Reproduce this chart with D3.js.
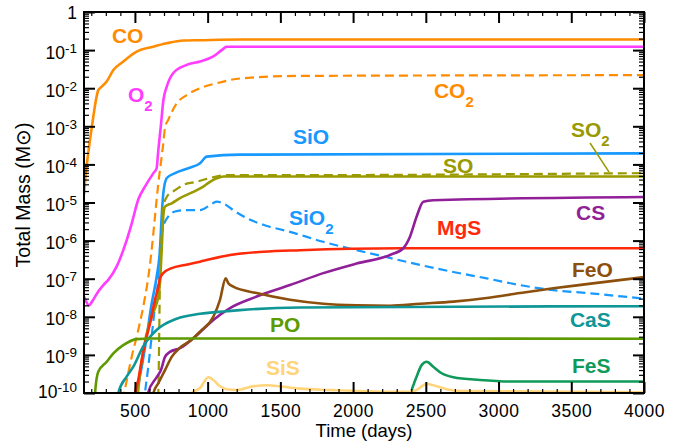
<!DOCTYPE html>
<html>
<head>
<meta charset="utf-8">
<script src="https://cdn.jsdelivr.net/npm/d3@7"></script>
<style>
  body { margin: 0; background: #fff; }
  svg { display: block; font-family: "Liberation Sans", Arial, Helvetica, sans-serif; }
</style>
</head>
<body>
<svg id="chart" width="683" height="445"></svg>
<script>
// Total mass of each molecule (solar masses) against time since explosion (days)
const CO = [[150,1.6e-5],[160,5.0e-5],[173,1.3e-4],[191,4.4e-4],[214,1.8e-3],[235,5.6e-3],[248,8.9e-3],[260,1.0e-2],[306,1.5e-2],[352,3.0e-2],[420,5.0e-2],[512,9.1e-2],[626,1.23e-1],[719,1.51e-1],[833,1.78e-1],[948,1.82e-1],[1222,1.9e-1],[4000,1.9e-1]];
const O2 = [[150,3.4e-8],[185,2.0e-8],[205,2.5e-8],[248,4.6e-8],[283,6.8e-8],[317,9.3e-8],[375,2.1e-7],[432,7.6e-7],[478,2.8e-6],[523,1.2e-5],[569,2.6e-5],[627,5.9e-5],[649,7.9e-5],[661,2.4e-4],[678,1.0e-3],[696,4.9e-3],[719,1.1e-2],[764,2.5e-2],[856,4.1e-2],[948,5.0e-2],[1039,6.8e-2],[1097,1.0e-1],[1131,1.23e-1],[4000,1.23e-1]];
const CO2 = [[415,6.3e-11],[432,1.3e-10],[478,8.9e-10],[523,4.5e-9],[558,1.9e-8],[592,1.1e-7],[615,5.6e-7],[638,4.3e-6],[661,3.2e-5],[684,1.6e-4],[695,3.5e-4],[707,9.1e-4],[730,1.5e-3],[787,4.0e-3],[856,6.6e-3],[948,1.0e-2],[1062,1.35e-2],[1222,1.8e-2],[1614,2.1e-2],[4000,2.2e-2]];
const SiO = [[500,5e-11],[512,1.0e-10],[547,4.9e-10],[581,3.0e-9],[615,2.2e-8],[649,1.1e-7],[672,5.6e-7],[684,4.3e-6],[695,1.7e-5],[719,4.4e-5],[776,5.9e-5],[867,7.9e-5],[948,1.07e-4],[994,1.6e-4],[1222,1.8e-4],[4000,1.95e-4]];
const SiO2 = [[560,5e-11],[569,1e-10],[592,4.9e-10],[615,3.0e-9],[638,1.9e-8],[661,1.1e-7],[672,5.6e-7],[695,2.3e-6],[730,4.3e-6],[776,5.8e-6],[844,6.3e-6],[948,6.3e-6],[1016,8.5e-6],[1062,1.05e-5],[1108,9.5e-6],[1176,6.3e-6],[1268,3.9e-6],[1383,2.6e-6],[1566,1.7e-6],[1795,9.3e-7],[2024,5.6e-7],[2254,3.5e-7],[2460,2.3e-7],[2689,1.5e-7],[2919,1.02e-7],[3148,6.8e-8],[3377,5.0e-8],[3606,4.2e-8],[4000,3.0e-8]];
const SO = [[515,5e-11],[521,1e-10],[558,1.35e-9],[615,1e-8],[649,2.2e-8],[661,3.4e-8],[672,7.6e-8],[684,5.6e-7],[695,4.3e-6],[707,7.8e-6],[753,9.5e-6],[810,1.3e-5],[902,1.9e-5],[970,2.6e-5],[1016,3.5e-5],[1062,4.3e-5],[1108,4.8e-5],[4000,4.8e-5]];
const SO2 = [[655,3.2e-11],[661,1e-10],[672,7.6e-8],[684,1.6e-6],[695,7.6e-6],[719,1.4e-5],[776,2.1e-5],[833,2.9e-5],[925,3.5e-5],[1016,4.4e-5],[1131,5.2e-5],[1360,5.2e-5],[4000,5.9e-5]];
const MgS = [[490,5e-11],[501,1e-10],[523,2.2e-10],[547,7.4e-10],[569,2.0e-9],[604,6.8e-9],[638,2.8e-8],[661,6.2e-8],[672,1.02e-7],[695,1.4e-7],[753,1.9e-7],[844,2.3e-7],[948,2.8e-7],[1154,4.2e-7],[1383,5.1e-7],[1635,5.6e-7],[2322,6.3e-7],[4000,6.3e-7]];
const CS = [[580,5e-11],[590,1e-10],[650,2.6e-10],[679,4.0e-10],[707,8.9e-10],[741,1.2e-9],[810,1.5e-9],[925,3.3e-9],[1039,8.3e-9],[1154,1.7e-8],[1337,3.4e-8],[1566,6.8e-8],[1795,1.4e-7],[2024,2.5e-7],[2254,4.2e-7],[2345,6.3e-7],[2391,1.26e-6],[2437,4.3e-6],[2483,1.05e-5],[2551,1.15e-5],[4000,1.4e-5]];
const FeO = [[615,5e-11],[627,1e-10],[661,1.8e-10],[707,4.0e-10],[753,8.9e-10],[810,1.55e-9],[890,2.5e-9],[948,4.1e-9],[1039,1e-8],[1085,2.8e-8],[1124,1.02e-7],[1142,7.6e-8],[1176,6.2e-8],[1337,4.2e-8],[1566,2.8e-8],[1795,2.2e-8],[2024,2.0e-8],[2254,1.95e-8],[2460,2.2e-8],[2689,2.5e-8],[2919,3.1e-8],[3148,4.2e-8],[3377,5.6e-8],[3606,7.2e-8],[4000,1.1e-7]];
const CaS = [[375,5e-11],[386,1e-10],[443,2.7e-10],[489,4.9e-10],[558,1.7e-9],[649,4.5e-9],[787,8.9e-9],[948,1.2e-8],[1131,1.4e-8],[1222,1.5e-8],[1635,1.75e-8],[4000,1.9e-8]];
const PO = [[222,5e-11],[226,1e-10],[248,3.6e-10],[306,6.6e-10],[352,1.1e-9],[420,1.8e-9],[512,2.6e-9],[604,2.7e-9],[4000,2.65e-9]];
const FeS = [[2395,5e-11],[2402,1.07e-10],[2418,1.74e-10],[2437,2.7e-10],[2471,5.4e-10],[2506,6.6e-10],[2551,4.9e-10],[2609,3.3e-10],[2689,2.6e-10],[2872,2.2e-10],[3101,2.0e-10],[4000,2.0e-10]];
const SiS = [[880,6e-11],[890,1.0e-10],[948,1.35e-10],[1005,2.6e-10],[1039,2.2e-10],[1085,1.5e-10],[1131,1.26e-10],[1200,1.2e-10],[1314,1.5e-10],[1406,1.6e-10],[1498,1.5e-10],[1635,1.3e-10],[1841,1.2e-10],[2391,1.07e-10],[2437,1.2e-10],[2506,1.74e-10],[2575,1.5e-10],[2643,1.26e-10],[2758,1.12e-10],[4000,1.05e-10]];

// Axis ticks
const xMajorTicks = [500, 1000, 1500, 2000, 2500, 3000, 3500, 4000];
const yExponents = [0, -1, -2, -3, -4, -5, -6, -7, -8, -9, -10];

// Species drawing styles and name labels (label anchor given in data units)
const series = [
  { data: CO,   color: "#ff8c00", dashed: false, name: "CO",  sub: "",  at: [342, 0.155] },
  { data: O2,   color: "#ff3cff", dashed: false, name: "O",   sub: "2", at: [452, 4.35e-3] },
  { data: CO2,  color: "#ff8c00", dashed: true,  name: "CO",  sub: "2", at: [2556, 5.5e-3] },
  { data: SiO,  color: "#1799ff", dashed: false, name: "SiO", sub: "",  at: [1587, 3.4e-4] },
  { data: SiO2, color: "#1799ff", dashed: true,  name: "SiO", sub: "2", at: [1559, 2.6e-6] },
  { data: SO,   color: "#999900", dashed: false, name: "SO",  sub: "",  at: [2618, 5.9e-5] },
  { data: SO2,  color: "#999900", dashed: true,  name: "SO",  sub: "2", at: [3498, 5.2e-4] },
  { data: MgS,  color: "#ff2a0a", dashed: false, name: "MgS", sub: "",  at: [2577, 1.4e-6] },
  { data: CS,   color: "#901f98", dashed: false, name: "CS",  sub: "",  at: [3533, 3.5e-6] },
  { data: FeO,  color: "#8c4f0c", dashed: false, name: "FeO", sub: "",  at: [3505, 1.1e-7] },
  { data: CaS,  color: "#0f9696", dashed: false, name: "CaS", sub: "",  at: [3491, 5.4e-9] },
  { data: PO,   color: "#5c9a00", dashed: false, name: "PO",  sub: "",  at: [1429, 4.0e-9] },
  { data: FeS,  color: "#109a5a", dashed: false, name: "FeS", sub: "",  at: [3505, 3.35e-10] },
  { data: SiS,  color: "#ffd47a", dashed: false, name: "SiS", sub: "",  at: [1401, 3.0e-10] }
];
// pointer from the SO2 label down to its curve
const so2Pointer = [[3629, 3.65e-4], [3760, 6.3e-5]];

const svg = d3.select("#chart");
const plot = { left: 84, right: 644, top: 12, bottom: 393 };

const x = d3.scaleLinear().domain([150, 4000]).range([plot.left, plot.right]);
const y = d3.scaleLog().domain([1e-10, 1]).range([plot.bottom, plot.top]);

svg.append("defs").append("clipPath").attr("id", "plotClip")
  .append("rect")
  .attr("x", plot.left).attr("y", plot.top)
  .attr("width", plot.right - plot.left).attr("height", plot.bottom - plot.top);

const line = d3.line()
  .x(d => x(d[0]))
  .y(d => y(d[1]))
  .curve(d3.curveMonotoneX);

const curves = svg.append("g").attr("clip-path", "url(#plotClip)");
series.forEach(s => {
  curves.append("path")
    .datum(s.data)
    .attr("d", line)
    .attr("fill", "none")
    .attr("stroke", s.color)
    .attr("stroke-width", s.dashed ? 2.2 : 2.6)
    .attr("stroke-linejoin", "round")
    .attr("stroke-dasharray", s.dashed ? "9,5" : null);
});

curves.append("path")
  .datum(so2Pointer)
  .attr("d", d3.line().x(d => x(d[0])).y(d => y(d[1])))
  .attr("stroke", "#999900")
  .attr("stroke-width", 1.5)
  .attr("fill", "none");

// species labels
series.forEach(s => {
  const t = svg.append("text")
    .attr("x", x(s.at[0]))
    .attr("y", y(s.at[1]))
    .attr("fill", s.color)
    .attr("font-weight", "bold")
    .attr("font-size", 21);
  t.append("tspan").text(s.name);
  if (s.sub) {
    t.append("tspan").attr("dy", 9).attr("font-size", 15).text(s.sub);
  }
});

// minor tick positions
const yDecades = yExponents.map(e => +("1e" + e));
const yMinor = [];
for (let e = -10; e < 0; e++) {
  for (let k = 2; k <= 9; k++) yMinor.push(+(k + "e" + e));
}
const xMinor = d3.range(200, 4000, 100).filter(v => v % 500 !== 0);

function styleAxis(g, width) {
  g.select(".domain").remove();
  g.selectAll(".tick line").attr("stroke", "#000").attr("stroke-width", width);
}

// left axis with labels
const gLeft = svg.append("g").attr("transform", `translate(${plot.left},0)`)
  .call(d3.axisLeft(y).tickValues(yDecades).tickSize(-11).tickPadding(7).tickFormat(() => ""))
  .attr("font-family", null).attr("font-size", 17.5);
styleAxis(gLeft, 2);
gLeft.selectAll(".tick text").each(function (d) {
  const e = Math.round(Math.log10(d));
  const t = d3.select(this).attr("dy", null).attr("fill", "#000")
    .attr("y", e === 0 ? 6 : (e === -10 ? 4 : 8));
  if (e === 0) {
    t.text("1");
  } else {
    t.append("tspan").text("10");
    t.append("tspan").attr("dy", -6).attr("font-size", 13.5).text(String(e));
  }
});
const gLeftMinor = svg.append("g").attr("transform", `translate(${plot.left},0)`)
  .call(d3.axisLeft(y).tickValues(yMinor).tickSize(-5).tickFormat(() => ""));
styleAxis(gLeftMinor, 1.2);

// right axis
const gRight = svg.append("g").attr("transform", `translate(${plot.right},0)`)
  .call(d3.axisRight(y).tickValues(yDecades).tickSize(-11).tickFormat(() => ""));
styleAxis(gRight, 2);
const gRightMinor = svg.append("g").attr("transform", `translate(${plot.right},0)`)
  .call(d3.axisRight(y).tickValues(yMinor).tickSize(-5).tickFormat(() => ""));
styleAxis(gRightMinor, 1.2);

// bottom axis with labels
const gBottom = svg.append("g").attr("transform", `translate(0,${plot.bottom})`)
  .call(d3.axisBottom(x).tickValues(xMajorTicks).tickSize(-11).tickFormat(d3.format("d")))
  .attr("font-family", null).attr("font-size", 17.5);
styleAxis(gBottom, 2);
gBottom.selectAll(".tick text").attr("y", 24).attr("dy", null).attr("fill", "#000")
  .attr("letter-spacing", 0.5);
const gBottomMinor = svg.append("g").attr("transform", `translate(0,${plot.bottom})`)
  .call(d3.axisBottom(x).tickValues(xMinor).tickSize(-4).tickFormat(() => ""));
styleAxis(gBottomMinor, 1.2);

// top axis
const gTop = svg.append("g").attr("transform", `translate(0,${plot.top})`)
  .call(d3.axisTop(x).tickValues(xMajorTicks).tickSize(-11).tickFormat(() => ""));
styleAxis(gTop, 2);
const gTopMinor = svg.append("g").attr("transform", `translate(0,${plot.top})`)
  .call(d3.axisTop(x).tickValues(xMinor).tickSize(-4).tickFormat(() => ""));
styleAxis(gTopMinor, 1.2);

// frame
svg.append("rect")
  .attr("x", plot.left).attr("y", plot.top)
  .attr("width", plot.right - plot.left).attr("height", plot.bottom - plot.top)
  .attr("fill", "none").attr("stroke", "#000").attr("stroke-width", 2);

// axis titles
svg.append("text")
  .attr("x", (plot.left + plot.right) / 2).attr("y", 437)
  .attr("text-anchor", "middle").attr("font-size", 18.5)
  .text("Time (days)");
svg.append("text")
  .attr("transform", "translate(30,195) rotate(-90)")
  .attr("text-anchor", "middle").attr("font-size", 19.5)
  .text("Total Mass (M\u2299)");
</script>
</body>
</html>
